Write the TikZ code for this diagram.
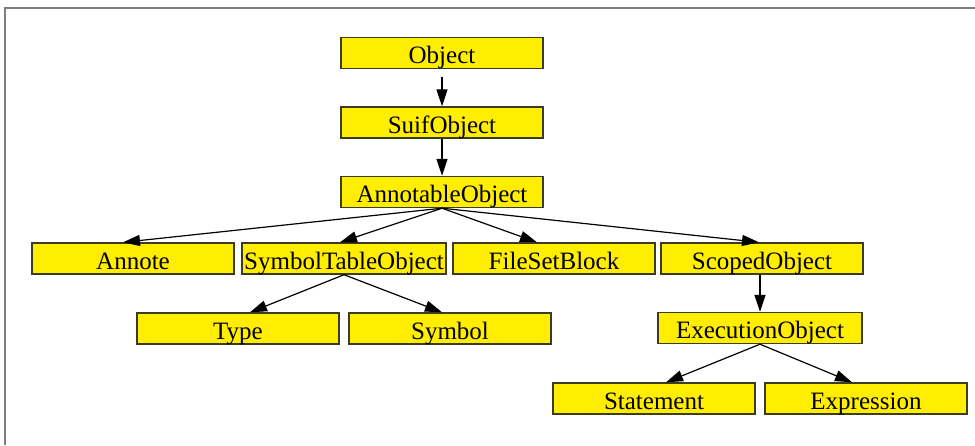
\documentclass[tikz,border=0pt]{standalone}
\usepackage{fontspec}
\setmainfont{Liberation Serif}
\usetikzlibrary{arrows.meta}
\definecolor{boxfill}{RGB}{255,238,0}
\definecolor{boxline}{RGB}{60,60,35}
\definecolor{framegray}{RGB}{125,125,125}
\begin{document}
\begin{tikzpicture}[x=1pt,y=-1pt,
  cls/.style={draw=boxline,fill=boxfill,line width=1.4pt,minimum width=202pt,minimum height=31pt,inner sep=0pt,text height=23pt,text depth=2pt,font=\fontsize{25}{25}\selectfont},
  arr/.style={-{Triangle[length=17pt,width=11pt]},line width=1.2pt,black}]
\useasboundingbox (0,0) rectangle (975,445);
\fill[white] (0,0) rectangle (975,445);
\draw[framegray,line width=2pt] (5,445) -- (5,8) -- (975,8);
\node[cls] (obj) at (442,53) {Object};
\node[cls] (suif) at (442,122.5) {SuifObject};
\node[cls] (annot) at (442,192) {AnnotableObject};
\node[cls] (annote) at (133,258.5) {Annote};
\node[cls,minimum width=204pt] (sto) at (344,258.5) {SymbolTableObject};
\node[cls] (fsb) at (554,258.5) {FileSetBlock};
\node[cls] (scoped) at (762,258.5) {ScopedObject};
\node[cls] (type) at (238,328.5) {Type};
\node[cls] (symbol) at (450,328.5) {Symbol};
\node[cls,minimum width=204pt] (exec) at (760,328) {ExecutionObject};
\node[cls] (stmt) at (654,398.5) {Statement};
\node[cls] (expr) at (866,398.5) {Expression};
\draw[arr] ([yshift=-8pt]obj.south) -- (suif.north);
\draw[arr] (suif.south) -- (annot.north);
\draw[arr] (annot.south) -- ([xshift=-10pt]annote.north);
\draw[arr] (annot.south) -- ([xshift=-4pt]sto.north);
\draw[arr] (annot.south) -- ([xshift=-17pt]fsb.north);
\draw[arr] (annot.south) -- ([xshift=-3pt]scoped.north);
\draw[arr] (sto.south) -- ([xshift=12pt]type.north);
\draw[arr] (sto.south) -- ([xshift=-8pt]symbol.north);
\draw[arr] ([xshift=-2pt]scoped.south) -- (exec.north);
\draw[arr] (exec.south) -- ([xshift=12pt]stmt.north);
\draw[arr] (exec.south) -- ([xshift=-14pt]expr.north);
\end{tikzpicture}
\end{document}
